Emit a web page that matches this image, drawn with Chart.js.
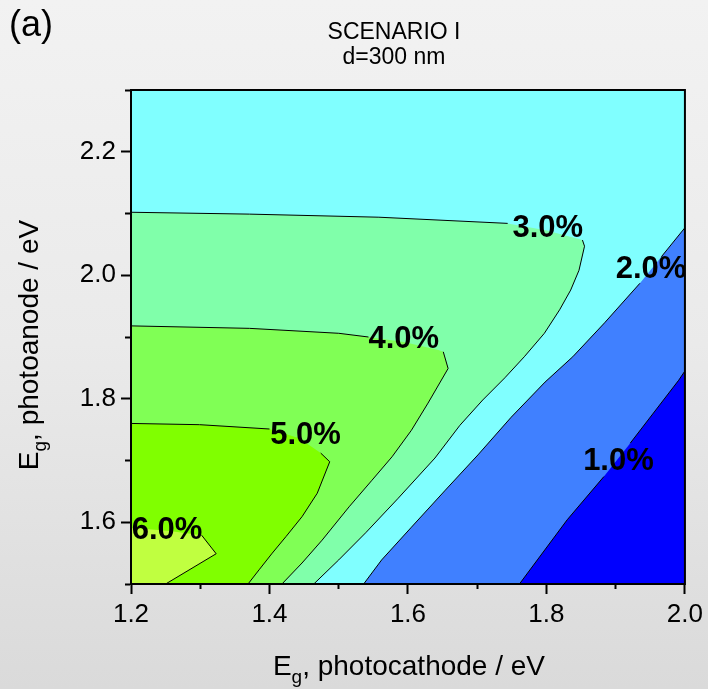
<!DOCTYPE html>
<html>
<head>
<meta charset="utf-8">
<script src="https://cdn.jsdelivr.net/npm/chart.js@4/dist/chart.umd.min.js"></script>
<style>
  html, body { margin: 0; padding: 0; }
  #wrap {
    width: 708px; height: 689px;
    background: linear-gradient(180deg, #f2f2f2 0%, #eaeaea 50%, #dadada 100%);
  }
  canvas { display: block; }
</style>
</head>
<body>
<div id="wrap"><canvas id="map" width="708" height="689"></canvas></div>
<script>
// Solar-to-hydrogen efficiency map for a tandem cell, scenario I, absorber thickness 300 nm.
const FONT = "'Liberation Sans', Arial, Helvetica, sans-serif";

const xRange = [1.2, 2.0];            // band gap of the photocathode, eV
const yRange = [1.5, 2.3];            // band gap of the photoanode, eV
const xTickLabels = ['1.2', '1.4', '1.6', '1.8', '2.0'];
const yTickLabels = ['1.6', '1.8', '2.0', '2.2'];
const titleLines = ['SCENARIO I', 'd=300 nm'];
const panelTag = '(a)';

// Iso-efficiency lines as [Eg photocathode, Eg photoanode] pairs, from upper end to lower end
const iso6 = [[1.200, 1.591], [1.256, 1.586], [1.302, 1.579], [1.323, 1.549], [1.250, 1.500]];
const iso5 = [[1.200, 1.760], [1.299, 1.758], [1.400, 1.751], [1.443, 1.736], [1.474, 1.712],
              [1.487, 1.698], [1.469, 1.647], [1.447, 1.609], [1.424, 1.577], [1.404, 1.550],
              [1.385, 1.523], [1.369, 1.500]];
const iso4 = [[1.200, 1.918], [1.371, 1.914], [1.500, 1.906], [1.543, 1.900], [1.594, 1.892],
              [1.644, 1.879], [1.651, 1.876], [1.658, 1.849], [1.629, 1.793], [1.605, 1.749],
              [1.577, 1.706], [1.548, 1.668], [1.515, 1.625], [1.476, 1.571], [1.447, 1.534],
              [1.418, 1.500]];
const iso3 = [[1.200, 2.102], [1.371, 2.099], [1.558, 2.094], [1.744, 2.084], [1.799, 2.073],
              [1.852, 2.057], [1.855, 2.047], [1.847, 2.008], [1.835, 1.976], [1.819, 1.944],
              [1.797, 1.906], [1.768, 1.868], [1.740, 1.834], [1.708, 1.798], [1.675, 1.757],
              [1.639, 1.704], [1.586, 1.639], [1.539, 1.583], [1.500, 1.539], [1.464, 1.500]];
const iso2 = [[2.000, 2.077], [1.966, 2.030], [1.935, 1.987], [1.884, 1.923], [1.838, 1.868],
              [1.798, 1.827], [1.749, 1.770], [1.701, 1.709], [1.654, 1.652], [1.605, 1.592],
              [1.562, 1.539], [1.536, 1.500]];
const iso1 = [[2.000, 1.845], [1.991, 1.830], [1.921, 1.728], [1.883, 1.674], [1.830, 1.604],
              [1.761, 1.500]];

// Efficiency level (%) of each line, and where its value is printed
const levelValues = [6.0, 5.0, 4.0, 3.0, 1.0, 2.0];
const levelLines = [iso6, iso5, iso4, iso3, iso1, iso2];
const labelAnchors = [[1.252, 1.586], [1.452, 1.740], [1.594, 1.896],
                      [1.802, 2.076], [1.904, 1.698], [1.951, 2.009]];

// Band colours: the region on the filled side of each line; 2-3 % is the plot background
const bandColors = ['#c0ff40', '#80ff00', '#80ff55', '#80ffaa', '#0000ff', '#4080ff'];
const fillSide = ['low', 'low', 'low', 'low', 'high', 'high'];
const baseBandColor = '#80ffff';
const LABEL_FONT = `bold 31px ${FONT}`;

const levelText = v => v.toFixed(1) + '%';
const toPoints = path => path.map(([x, y]) => ({ x, y }));

function labelBox(chart, i) {
  const ctx = chart.ctx;
  ctx.save();
  ctx.font = LABEL_FONT;
  const half = ctx.measureText(levelText(levelValues[i])).width / 2 + 2;
  ctx.restore();
  const cx = chart.scales.x.getPixelForValue(labelAnchors[i][0]);
  const cy = chart.scales.y.getPixelForValue(labelAnchors[i][1]);
  return { l: cx - half, r: cx + half, t: cy - 13, b: cy + 13 };
}

// Line pieces that run underneath their own value label are left out
function underLabel(sc) {
  const b = labelBox(sc.chart, sc.datasetIndex);
  const mx = (sc.p0.x + sc.p1.x) / 2, my = (sc.p0.y + sc.p1.y) / 2;
  return mx > b.l && mx < b.r && my > b.t && my < b.b;
}

const lineSets = levelLines.map(path => ({
  data: toPoints(path),
  fill: false,
  borderColor: '#000',
  borderWidth: 1,
  pointRadius: 0,
  segment: { borderColor: sc => underLabel(sc) ? 'rgba(0,0,0,0)' : '#000' }
}));

const bandSets = levelLines.map((path, i) => ({
  data: toPoints(path),
  fill: { value: fillSide[i] === 'low' ? xRange[0] : xRange[1] },
  backgroundColor: bandColors[i],
  borderWidth: 0,
  pointRadius: 0
}));

function drawSubscripted(ctx, main, sub, tail, size, x, y) {
  const big = `${size}px ${FONT}`, small = `${Math.round(size * 0.68)}px ${FONT}`;
  ctx.font = big; const w1 = ctx.measureText(main).width;
  ctx.font = small; const w2 = ctx.measureText(sub).width;
  ctx.font = big; const w3 = ctx.measureText(tail).width;
  const x0 = x - (w1 + w2 + w3) / 2;
  ctx.textAlign = 'left';
  ctx.textBaseline = 'alphabetic';
  ctx.font = big; ctx.fillText(main, x0, y);
  ctx.font = small; ctx.fillText(sub, x0 + w1, y + size * 0.3);
  ctx.font = big; ctx.fillText(tail, x0 + w1 + w2, y);
}

const mapDecor = {
  id: 'mapDecor',
  afterLayout(chart) {
    // let the photoanode tick labels use the free margin on the left
    chart.scales.y.left = 0;
  },
  beforeDraw(chart) {
    const { ctx, chartArea: a } = chart;
    ctx.save();
    ctx.fillStyle = baseBandColor;
    ctx.fillRect(a.left, a.top, a.right - a.left, a.bottom - a.top);
    ctx.restore();
  },
  afterDatasetsDraw(chart) {
    const { ctx, chartArea: a } = chart;
    ctx.save();
    ctx.beginPath();
    ctx.rect(a.left, a.top, a.right - a.left, a.bottom - a.top);
    ctx.clip();
    ctx.font = LABEL_FONT;
    ctx.fillStyle = '#000';
    ctx.textAlign = 'center';
    ctx.textBaseline = 'middle';
    labelAnchors.forEach(([ax, ay], i) => {
      ctx.fillText(levelText(levelValues[i]),
        chart.scales.x.getPixelForValue(ax), chart.scales.y.getPixelForValue(ay));
    });
    ctx.restore();
  },
  afterDraw(chart) {
    const { ctx, chartArea: a } = chart;
    ctx.save();
    ctx.strokeStyle = '#000';
    ctx.lineWidth = 2;
    ctx.strokeRect(a.left, a.top, a.right - a.left, a.bottom - a.top);

    ctx.fillStyle = '#000';
    // x-axis title
    drawSubscripted(ctx, 'E', 'g', ', photocathode / eV', 28, (a.left + a.right) / 2 + 1, chart.height - 14);
    // y-axis title, rotated
    ctx.save();
    ctx.translate(38, (a.top + a.bottom) / 2 + 8);
    ctx.rotate(-Math.PI / 2);
    drawSubscripted(ctx, 'E', 'g', ', photoanode / eV', 28, 0, 0);
    ctx.restore();
    // panel tag
    ctx.font = `36px ${FONT}`;
    ctx.textAlign = 'left';
    ctx.textBaseline = 'alphabetic';
    ctx.fillText(panelTag, 9, 36);
    ctx.restore();
  }
};

const isMajor = v => Math.round(v * 10) % 2 === 0;
const tickFont = { family: FONT, size: 26 };

new Chart(document.getElementById('map'), {
  type: 'line',
  data: { datasets: [...lineSets, ...bandSets] },
  plugins: [mapDecor],
  options: {
    responsive: false,
    animation: false,
    events: [],
    indexAxis: 'y',
    layout: { padding: { left: 100, right: 20, top: 0, bottom: 0 } },
    plugins: {
      legend: { display: false },
      tooltip: { enabled: false },
      filler: { drawTime: 'beforeDatasetsDraw' },
      title: {
        display: true,
        text: titleLines,
        color: '#000',
        font: { family: FONT, size: 23, weight: 'normal', lineHeight: 25 / 23 },
        padding: { top: 20, bottom: 20 }
      }
    },
    scales: {
      x: {
        type: 'linear',
        min: xRange[0], max: xRange[1],
        afterFit: s => { s.height = 105; },
        border: { display: false },
        grid: {
          drawOnChartArea: false, drawTicks: true, tickLength: 10,
          tickColor: '#000', tickWidth: 2,
          tickBorderDash: c => isMajor(c.tick.value) ? [] : [5, 100]
        },
        ticks: {
          stepSize: 0.1, autoSkip: false, maxRotation: 0, padding: 5,
          color: '#000', font: tickFont,
          callback: v => { const t = v.toFixed(1); return xTickLabels.includes(t) ? t : ''; }
        }
      },
      y: {
        type: 'linear',
        min: yRange[0], max: yRange[1],
        afterFit: s => { s.width = 31; },
        border: { display: false },
        grid: {
          drawOnChartArea: false, drawTicks: true, tickLength: 10,
          tickColor: '#000', tickWidth: 2,
          tickBorderDash: c => isMajor(c.tick.value) ? [] : [0, 4, 5, 100]
        },
        ticks: {
          stepSize: 0.1, autoSkip: false, padding: 5,
          color: '#000', font: tickFont,
          callback: v => { const t = v.toFixed(1); return yTickLabels.includes(t) ? t : ''; }
        }
      }
    }
  }
});
</script>
</body>
</html>
